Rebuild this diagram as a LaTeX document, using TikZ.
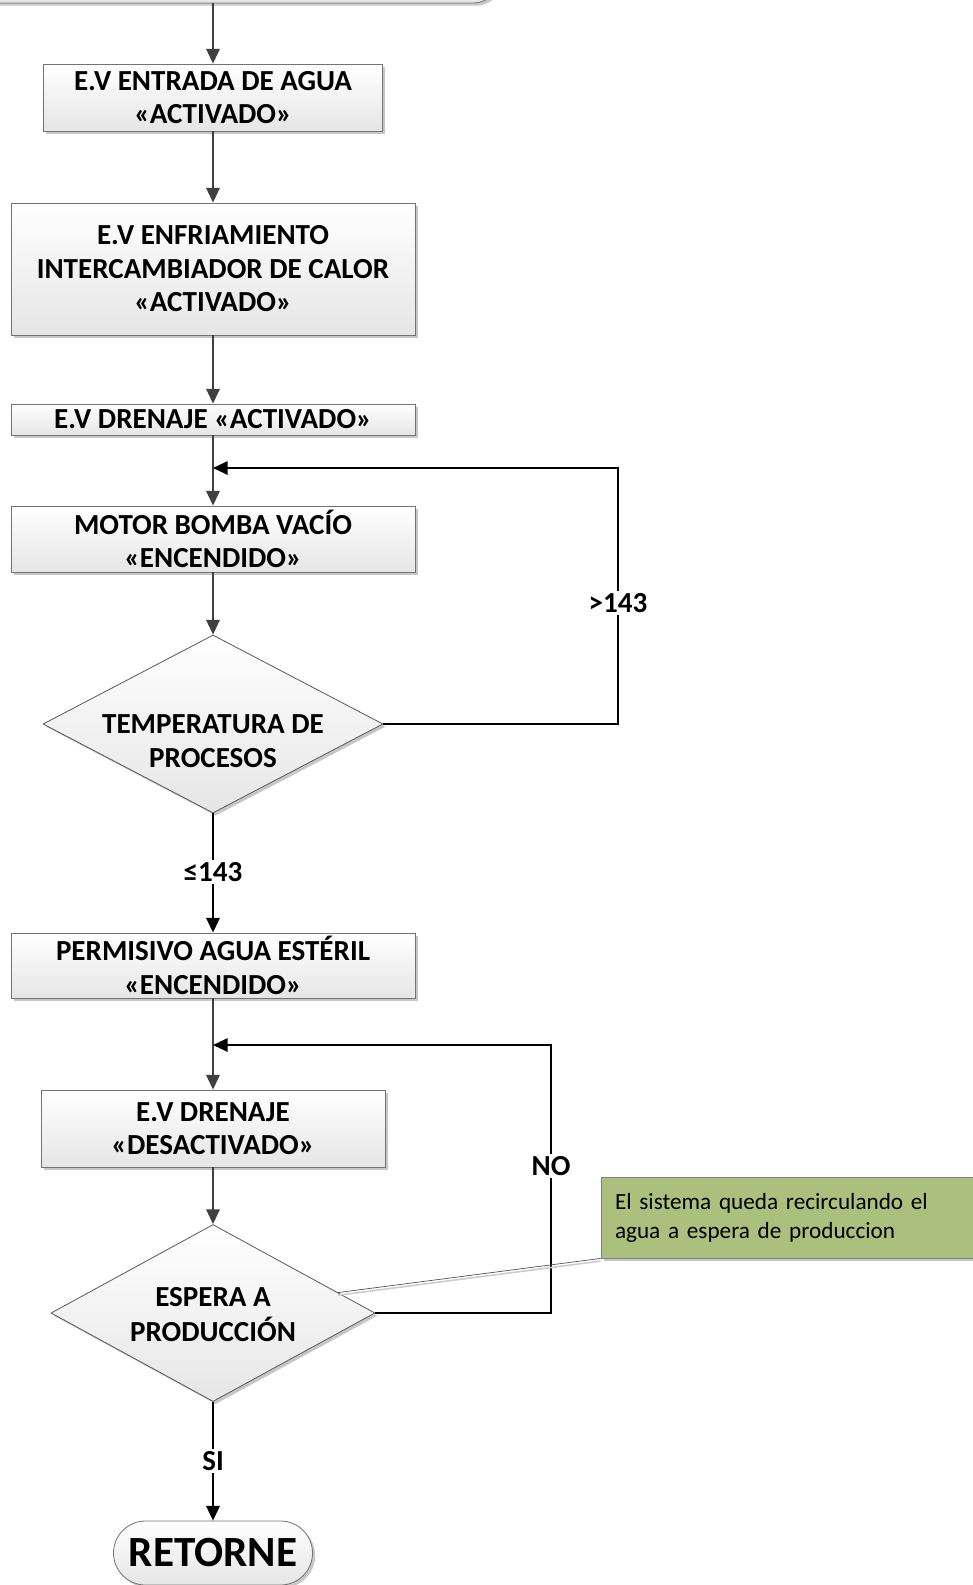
\documentclass[tikz,border=0pt]{standalone}
\usepackage{fontspec}
\setmainfont{Carlito}
\usetikzlibrary{shapes.geometric,arrows.meta,shadows,calc}

\definecolor{notaverde}{RGB}{170,192,124}
\definecolor{flecha}{RGB}{64,64,64}

\tikzset{
  caja/.style={draw=black!55, line width=0.6pt, top color=white, bottom color=black!10,
    drop shadow={shadow xshift=2pt, shadow yshift=-2pt, fill=black!22, opacity=1},
    font=\fontsize{21.8}{25.1}\selectfont\bfseries, align=center, inner sep=0pt},
  decision/.style={caja, diamond, aspect=1.9, draw=black!65},
  flujo/.style={draw=flecha, line width=1.4pt, -{Triangle[width=10pt,length=11pt]}},
  lazo/.style={draw=black, line width=1.5pt, -{Triangle[width=10pt,length=11pt]}},
  etiqueta/.style={fill=white, inner sep=2pt, font=\fontsize{21.8}{25.1}\selectfont\bfseries},
}
% texto del rombo desplazado hacia abajo sin cambiar su tamano
\newcommand{\textorombo}[2]{\raisebox{#1}[0pt][0pt]{\renewcommand{\arraystretch}{1}\begin{tabular}{@{}c@{}}#2\end{tabular}}}

\begin{document}
\begin{tikzpicture}[x=0.75pt,y=0.75pt,yscale=-1,xscale=1]
\useasboundingbox (0,0) rectangle (973,1585);
\clip (0,0) rectangle (973,1585);

% Terminal de inicio
\node[caja, rounded corners=22pt, minimum width=433.5pt, minimum height=45pt] (inicio) at (213,-27) {};

% Bloques de proceso
\node[caja, minimum width=254.25pt, minimum height=50.25pt] (agua) at (213,97.5) {E.V ENTRADA DE AGUA\\«ACTIVADO»};
\node[caja, minimum width=303pt, minimum height=99pt] (enfriamiento) at (213,269) {E.V ENFRIAMIENTO\\INTERCAMBIADOR DE CALOR\\«ACTIVADO»};
\node[caja, minimum width=303pt, minimum height=23.25pt] (drenaje) at (213,419.5) {E.V DRENAJE «ACTIVADO»};
\node[caja, minimum width=303pt, minimum height=49.5pt] (motor) at (213,539) {MOTOR BOMBA VACÍO\\«ENCENDIDO»};

% Decision temperatura
\node[decision, minimum width=255pt, minimum height=133.5pt] (temp) at (213,724) {\textorombo{-20pt}{TEMPERATURA DE\\PROCESOS}};

\node[caja, minimum width=303pt, minimum height=48.75pt] (permisivo) at (213,965.5) {PERMISIVO AGUA ESTÉRIL\\«ENCENDIDO»};
\node[caja, minimum width=258pt, minimum height=57.75pt] (desactivado) at (213,1128.5) {E.V DRENAJE\\«DESACTIVADO»};

% Decision produccion
\node[decision, minimum width=243pt, minimum height=132.75pt] (espera) at (213,1313) {\textorombo{-8.5pt}{ESPERA A\\PRODUCCIÓN}};

% Terminal final
\node[caja, rounded corners=24pt, minimum width=149.25pt, minimum height=48pt, font=\fontsize{32.3}{36}\selectfont\bfseries] (retorne) at (213,1553) {RETORNE};

% Comentario
\node[draw=black!50, line width=0.6pt, fill=notaverde, drop shadow={shadow xshift=2pt, shadow yshift=-2pt, fill=black!22, opacity=1},
  minimum width=279pt, minimum height=60.75pt, text width=258pt, align=left, inner sep=0pt,
  font=\fontsize{17.4}{21.75}\selectfont] (nota) at (787,1217.5) {El sistema queda recirculando el\\agua a espera de produccion};

% Uniones de los lazos
\coordinate (j1) at (213,468);
\coordinate (j2) at (213,1045);

% Flujo principal
\draw[flujo] (inicio) -- (agua);
\draw[flujo] (agua) -- (enfriamiento);
\draw[flujo] (enfriamiento) -- (drenaje);
\draw[flujo] (drenaje) -- (motor);
\draw[flujo] (motor) -- (temp);
\draw[lazo] (temp) -- (permisivo);
\draw[flujo] (permisivo) -- (desactivado);
\draw[flujo] (desactivado) -- (espera);
\draw[lazo] (espera) -- (retorne);

% Lazos de retorno
\draw[lazo] (temp.east) -- ++(235,0) |- (j1);
\draw[lazo] (espera.east) -- ++(176,0) |- (j2);

% Etiquetas
\node[etiqueta] (mayor) at (618,603) {>143};
\node[etiqueta] (menor) at (213,872) {≤143};
\node[etiqueta] (no) at (551,1166) {NO};
\node[etiqueta] (si) at (213,1461) {SI};

% Linea del comentario
\coordinate (c1) at ($(espera.east)!0.23!(espera.north)$);
\draw[black!20, line width=1.2pt] ([yshift=2]c1) -- ([yshift=2]nota.south west);
\draw[black!70, line width=0.5pt] (c1) -- (nota.south west);

\end{tikzpicture}
\end{document}
